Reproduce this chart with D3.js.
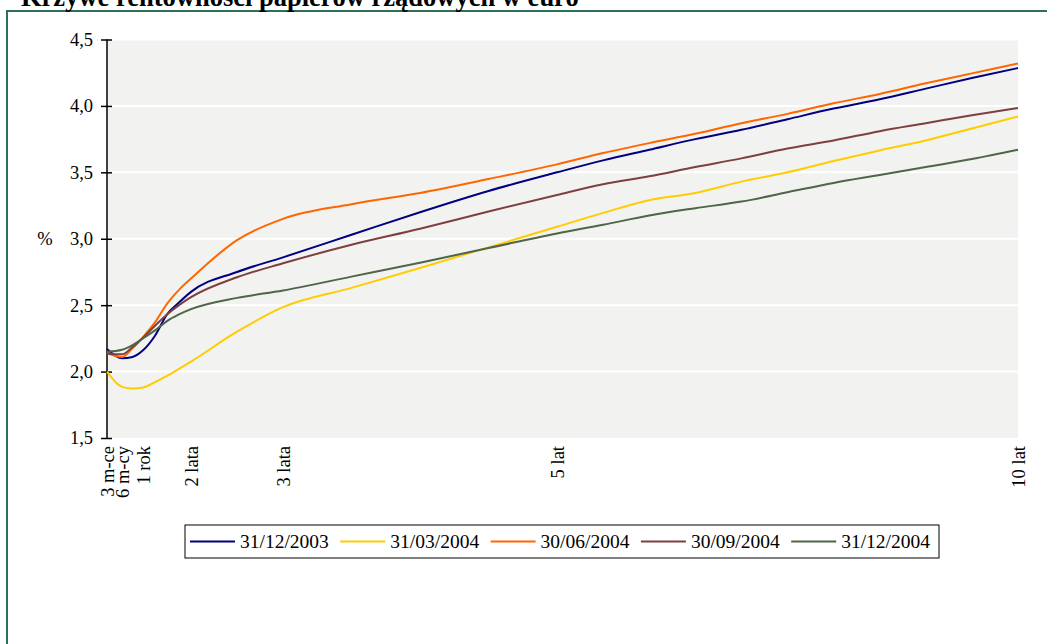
<!DOCTYPE html>
<html>
<head>
<meta charset="utf-8">
<script src="https://cdnjs.cloudflare.com/ajax/libs/d3/7.8.5/d3.min.js"></script>
<style>
  html, body { margin: 0; padding: 0; background: #ffffff; overflow: hidden; }
  svg { display: block; }
  text { font-family: "Liberation Serif", "Times New Roman", serif; fill: #000; }
</style>
</head>
<body>
<svg id="chart" width="1047" height="644"></svg>
<script>
// ---- data ----
const titleText = "Krzywe rentowności papierów rządowych w euro";
const yLabel = "%";
const maturities = [0.25, 0.5, 0.75, 1, 1.25, 1.5, 1.75, 2, 2.5, 3, 3.5, 4, 4.5, 5, 5.5, 6, 6.5, 7, 7.5, 8, 8.5, 9, 9.5, 10];
const seriesNames = ["31/12/2003", "31/03/2004", "30/06/2004", "30/09/2004", "31/12/2004"];
const s20031231 = [2.17, 2.10, 2.11, 2.16, 2.27, 2.43, 2.52, 2.60, 2.75, 2.86, 3.03, 3.20, 3.36, 3.50, 3.59, 3.67, 3.75, 3.82, 3.90, 3.98, 4.05, 4.13, 4.21, 4.285];
const s20040331 = [2.00, 1.885, 1.873, 1.88, 1.92, 1.967, 2.02, 2.075, 2.30, 2.485, 2.63, 2.78, 2.935, 3.09, 3.195, 3.29, 3.345, 3.43, 3.50, 3.585, 3.665, 3.74, 3.83, 3.92];
const s20040630 = [2.14, 2.11, 2.175, 2.26, 2.37, 2.51, 2.615, 2.70, 2.99, 3.15, 3.26, 3.345, 3.45, 3.56, 3.645, 3.72, 3.79, 3.87, 3.94, 4.02, 4.09, 4.17, 4.245, 4.32];
const s20040930 = [2.135, 2.13, 2.185, 2.255, 2.345, 2.43, 2.50, 2.56, 2.71, 2.815, 2.955, 3.075, 3.205, 3.33, 3.41, 3.47, 3.54, 3.605, 3.68, 3.74, 3.81, 3.87, 3.93, 3.985];
const s20041231 = [2.15, 2.165, 2.20, 2.25, 2.31, 2.38, 2.43, 2.47, 2.555, 2.61, 2.715, 2.82, 2.93, 3.04, 3.105, 3.175, 3.23, 3.28, 3.35, 3.42, 3.48, 3.54, 3.60, 3.67];
const seriesValues = [s20031231, s20040331, s20040630, s20040930, s20041231];
const seriesColors = ["#000080", "#FFCC00", "#FF6600", "#7F3F3F", "#4F6547"];
const xTickValues = [0.25, 0.5, 1, 2, 3, 5, 10];
const xTickLabels = ["3 m-ce", "6 m-cy", "1 rok", "2 lata", "3 lata", "5 lat", "10 lat"];
const yTicks = [1.5, 2.0, 2.5, 3.0, 3.5, 4.0, 4.5];

// ---- layout ----
const svg = d3.select("#chart");
const plotLeft = 107, plotRight = 1018, plotTop = 39.5, plotBottom = 438;

// piecewise category-like axis: label positions of the original chart
const x = d3.scaleLinear()
  .domain(xTickValues)
  .range([107, 122, 143, 191, 283, 557, 1018]);
const y = d3.scaleLinear().domain([1.5, 4.5]).range([plotBottom, plotTop]);

// frame
svg.append("rect")
  .attr("x", 7).attr("y", 11).attr("width", 1100).attr("height", 700)
  .attr("fill", "none").attr("stroke", "#2E6E5B").attr("stroke-width", 2);

// title (partly cut off at top in the original)
svg.append("text")
  .attr("x", 21).attr("y", 6)
  .attr("font-size", 26.5).attr("font-weight", "bold")
  .text(titleText);

// plot background
svg.append("rect")
  .attr("x", plotLeft).attr("y", plotTop)
  .attr("width", plotRight - plotLeft).attr("height", plotBottom - plotTop)
  .attr("fill", "#F2F3F0");

// gridlines
svg.append("g")
  .selectAll("line")
  .data(yTicks.filter(d => d > 1.5))
  .join("line")
  .attr("x1", plotLeft).attr("x2", plotRight)
  .attr("y1", d => y(d)).attr("y2", d => y(d))
  .attr("stroke", "#ffffff").attr("stroke-width", 2);

// y axis
const yAxis = d3.axisLeft(y)
  .tickValues(yTicks)
  .tickSize(5)
  .tickPadding(9)
  .tickFormat(d => d3.format(".1f")(d).replace(".", ","));
const gy = svg.append("g").attr("transform", `translate(${plotLeft},0)`).call(yAxis);
gy.select(".domain").attr("stroke", "#000").attr("stroke-width", 1.5).attr("d", `M0,${plotTop}V${plotBottom}`);
gy.selectAll(".tick line").attr("x1", -6).attr("x2", 5).attr("stroke", "#000").attr("stroke-width", 1.5);
gy.selectAll(".tick text")
  .attr("font-family", '"Liberation Serif", "Times New Roman", serif')
  .attr("font-size", 18.5).attr("fill", "#000");

// y label
svg.append("text")
  .attr("x", 45).attr("y", y(3.0)).attr("dy", "0.35em")
  .attr("text-anchor", "middle").attr("font-size", 18.5)
  .text(yLabel);

// x labels (rotated)
const xAxis = d3.axisBottom(x).tickValues(xTickValues).tickSize(0)
  .tickFormat((d, i) => xTickLabels[i]);
const gx = svg.append("g").attr("transform", `translate(0,${plotBottom})`).call(xAxis);
gx.select(".domain").remove();
gx.selectAll(".tick text")
  .attr("font-family", '"Liberation Serif", "Times New Roman", serif')
  .attr("font-size", 18.5).attr("fill", "#000")
  .attr("transform", "rotate(-90)")
  .attr("text-anchor", "end")
  .attr("x", -8).attr("y", 0).attr("dy", "0.35em");

// lines
const line = d3.line()
  .x((d, i) => x(maturities[i]))
  .y(d => y(d))
  .curve(d3.curveMonotoneX);
svg.append("g")
  .selectAll("path")
  .data(seriesValues)
  .join("path")
  .attr("d", d => line(d))
  .attr("fill", "none")
  .attr("stroke", (d, i) => seriesColors[i])
  .attr("stroke-width", 2);

// legend
const lg = svg.append("g");
lg.append("rect")
  .attr("x", 185).attr("y", 525).attr("width", 754).attr("height", 33)
  .attr("fill", "#fff").attr("stroke", "#000").attr("stroke-width", 1);
const entries = lg.selectAll("g.entry").data(seriesNames).join("g")
  .attr("class", "entry")
  .attr("transform", (d, i) => `translate(${190 + i * 150.3},541.5)`);
entries.append("line")
  .attr("x1", 0).attr("x2", 45).attr("y1", 0).attr("y2", 0)
  .attr("stroke", (d, i) => seriesColors[i]).attr("stroke-width", 2);
entries.append("text")
  .attr("x", 50).attr("y", 0).attr("dy", "0.35em")
  .attr("font-size", 19.5)
  .text(d => d);
</script>
</body>
</html>
